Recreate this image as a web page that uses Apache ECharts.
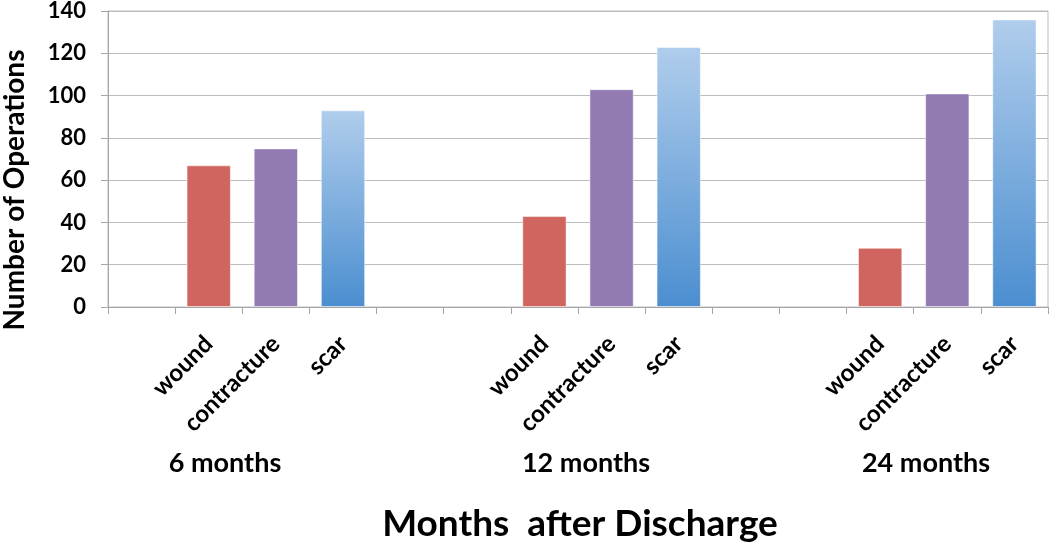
<!DOCTYPE html>
<html>
<head>
<meta charset="utf-8">
<script src="https://cdn.jsdelivr.net/npm/echarts@6/dist/echarts.min.js"></script>
<style>html,body{margin:0;padding:0;background:#fff;}#c{width:1050px;height:546px;}</style>
</head>
<body>
<div id="c"></div>
<script>
const groups = ['6 months', '12 months', '24 months'];
const types = ['wound', 'contracture', 'scar'];
const wound = [67, 43, 28];
const contracture = [75, 103, 101];
const scar = [93, 123, 136];
const yTicks = [0, 20, 40, 60, 80, 100, 120, 140];

const FONT = 'Lato';
const colors = {
  wound: '#D0655F',
  contracture: '#927AB3',
  scar: new echarts.graphic.LinearGradient(0, 0, 0, 1, [
    { offset: 0, color: '#B0CDEC' },
    { offset: 1, color: '#4B8ED0' }
  ])
};

// 14 slots: blank, w, c, s, blank, blank, w, c, s, blank, blank, w, c, s
const categories = [];
const values = [];
const valueSets = { wound, contracture, scar };
groups.forEach((g, gi) => {
  const lead = gi === 0 ? 1 : 2;
  for (let i = 0; i < lead; i++) { categories.push(''); values.push('-'); }
  types.forEach(t => {
    categories.push(t);
    values.push({ value: valueSets[t][gi], itemStyle: { color: colors[t] } });
  });
});

const chart = echarts.init(document.getElementById('c'), null, { renderer: 'canvas' });
chart.setOption({
  animation: false,
  grid: { left: 108, right: 2, top: 7, bottom: 239, show: true, borderColor: '#BDBDBD', borderWidth: 1, containLabel: false },
  xAxis: {
    type: 'category',
    data: categories,
    axisLine: { lineStyle: { color: '#A6A6A6', width: 1 } },
    axisTick: { show: true, interval: 0, length: 7, lineStyle: { color: '#A6A6A6' } },
    axisLabel: {
      interval: 0, rotate: 45, margin: 33,
      fontFamily: FONT, fontWeight: 'bold', fontSize: 24, color: '#000'
    }
  },
  yAxis: {
    type: 'value',
    min: yTicks[0], max: yTicks[yTicks.length - 1], interval: 20,
    axisLine: { show: true, lineStyle: { color: '#A6A6A6' } },
    axisTick: { show: true, length: 7, lineStyle: { color: '#A6A6A6' } },
    splitLine: { lineStyle: { color: '#BDBDBD', width: 1 } },
    axisLabel: { margin: 22, fontFamily: FONT, fontWeight: 'bold', fontSize: 22, color: '#000' }
  },
  series: [{
    type: 'bar',
    data: values,
    barWidth: '66%',
    itemStyle: { borderColor: 'rgba(255,255,255,0.5)', borderWidth: 1 }
  }],
  graphic: [
    { type: 'text', x: 225, y: 463, style: { text: groups[0], font: 'bold 27px ' + FONT, fill: '#000', align: 'center', verticalAlign: 'middle' } },
    { type: 'text', x: 586, y: 463, style: { text: groups[1], font: 'bold 27px ' + FONT, fill: '#000', align: 'center', verticalAlign: 'middle' } },
    { type: 'text', x: 926, y: 463, style: { text: groups[2], font: 'bold 27px ' + FONT, fill: '#000', align: 'center', verticalAlign: 'middle' } },
    { type: 'text', x: 580, y: 524, style: { text: 'Months  after Discharge', font: 'bold 37px ' + FONT, fill: '#000', align: 'center', verticalAlign: 'middle' } },
    { type: 'text', x: 15, y: 190, rotation: Math.PI / 2, style: { text: 'Number of Operations', font: 'bold 28px ' + FONT, fill: '#000', align: 'center', verticalAlign: 'middle' } }
  ]
});
</script>
</body>
</html>
